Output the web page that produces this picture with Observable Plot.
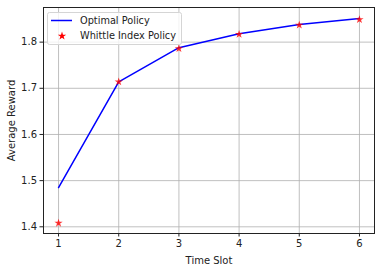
<!DOCTYPE html>
<html><head><meta charset="utf-8">
<script src="https://cdn.jsdelivr.net/npm/d3@7"></script>
<script src="https://cdn.jsdelivr.net/npm/@observablehq/plot@0.6"></script>
<style>body{margin:0;background:#fff} svg{display:block}</style>
</head><body><div id="chart"></div>
<script>
const timeSlots = [1, 2, 3, 4, 5, 6];
const optimal = [1.485, 1.714, 1.788, 1.818, 1.838, 1.851];
const whittle = [1.408, 1.714, 1.786, 1.817, 1.837, 1.849];
const xTicks = [1, 2, 3, 4, 5, 6];
const yTicks = [1.4, 1.5, 1.6, 1.7, 1.8];
const seriesNames = ["Optimal Policy", "Whittle Index Policy"];

const optData = timeSlots.map((t, i) => ({t, v: optimal[i]}));
const whData = timeSlots.map((t, i) => ({t, v: whittle[i]}));

const chart = Plot.plot({
  width: 382, height: 273,
  marginLeft: 43, marginRight: 8, marginTop: 7, marginBottom: 40,
  style: {fontFamily: "DejaVu Sans", fontSize: "10px", color: "#222", background: "#fff"},
  x: {domain: [0.75, 6.25]},
  y: {domain: [1.3855, 1.875]},
  marks: [
    Plot.gridX(xTicks, {stroke: "#b0b0b0", strokeOpacity: 1, strokeWidth: 0.8}),
    Plot.gridY(yTicks, {stroke: "#b0b0b0", strokeOpacity: 1, strokeWidth: 0.8}),
    Plot.axisX(xTicks, {tickSize: 3.5, tickPadding: 3, label: "Time Slot", labelAnchor: "center", labelArrow: "none", labelOffset: 30, fontSize: 10}),
    Plot.axisY(yTicks, {tickSize: 3.5, tickPadding: 3, tickFormat: d3.format(".1f"), label: "Average Reward", labelAnchor: "center", labelArrow: "none", labelOffset: 36, fontSize: 10}),
    Plot.line(optData, {x: "t", y: "v", stroke: "#0000ff", strokeWidth: 1.5}),
    Plot.dot(whData, {x: "t", y: "v", symbol: "star", fill: "#ff0000", stroke: "none", r: 2.6, fillOpacity: 0.8}),
    Plot.frame({stroke: "#222", strokeWidth: 1})
  ]
});
document.getElementById("chart").appendChild(chart);

// legend inside the plot area (upper left)
const svg = d3.select(chart);
const g = svg.append("g").attr("text-anchor", "start");
g.append("rect").attr("x", 47.5).attr("y", 12.5).attr("width", 134).attr("height", 32)
  .attr("rx", 2).attr("fill", "#fff").attr("fill-opacity", 0.8).attr("stroke", "#d5d5d5");
g.append("line").attr("x1", 51).attr("x2", 72).attr("y1", 20.5).attr("y2", 20.5)
  .attr("stroke", "#0000ff").attr("stroke-width", 1.5);
g.append("path").attr("d", d3.symbol(d3.symbolStar, 22)()).attr("transform", "translate(62,36)")
  .attr("fill", "#ff0000");
const legendTexts = [20.5, 36].map((y, i) => g.append("text").attr("x", 80).attr("y", y).attr("dy", "0.35em").attr("fill", "#222")
  .style("font-family", "'DejaVu Sans'").style("font-size", "10px").text(seriesNames[i]));

// fit legend text to the reference's proportions (text ends just inside the box)
const w = legendTexts[1].node().getComputedTextLength();
if (w > 0) {
  const fs = Math.max(9, Math.min(12, 10 * 96 / w));
  legendTexts.forEach(t => t.style("font-size", fs + "px"));
}
</script></body></html>
